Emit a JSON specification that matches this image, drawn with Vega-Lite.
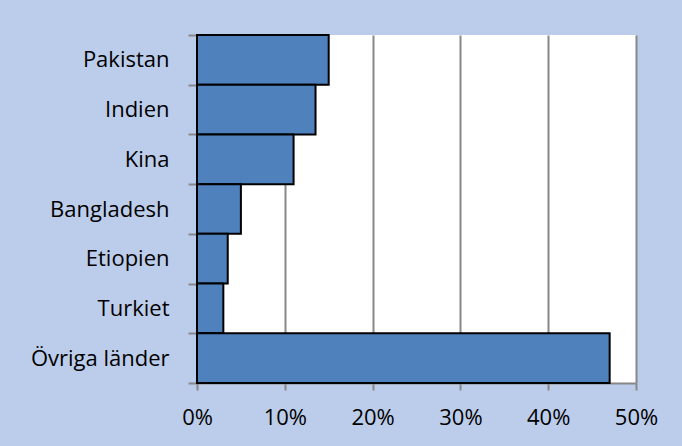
{
  "$schema": "https://vega.github.io/schema/vega-lite/v6.json",
  "autosize": {"type": "none"},
  "width": 439,
  "height": 348,
  "padding": {"left": 197, "top": 35, "right": 46, "bottom": 63},
  "background": "#BCCDEB",
  "data": {
    "values": [
      {"land": "Pakistan", "andel": 0.15},
      {"land": "Indien", "andel": 0.135},
      {"land": "Kina", "andel": 0.11},
      {"land": "Bangladesh", "andel": 0.05},
      {"land": "Etiopien", "andel": 0.035},
      {"land": "Turkiet", "andel": 0.03},
      {"land": "Övriga länder", "andel": 0.47}
    ]
  },
  "mark": {"type": "bar", "fill": "#4F81BD", "stroke": "#000000", "strokeWidth": 2},
  "encoding": {
    "y": {
      "field": "land", "type": "nominal", "sort": null,
      "scale": {"paddingInner": 0, "paddingOuter": 0},
      "axis": {
        "title": null, "tickBand": "extent", "tickSize": 9, "tickColor": "#888888", "tickWidth": 2,
        "domainColor": "#888888", "domainWidth": 2, "labelFont": "Open Sans", "labelFontSize": 22,
        "labelColor": "#000000", "labelPadding": 19
      }
    },
    "x": {
      "field": "andel", "type": "quantitative",
      "scale": {"domain": [0, 0.5], "nice": false},
      "axis": {
        "title": null, "format": ".0%", "values": [0, 0.1, 0.2, 0.3, 0.4, 0.5],
        "grid": true, "gridColor": "#888888", "gridWidth": 2, "gridOpacity": 1,
        "tickSize": 7, "tickColor": "#888888", "tickWidth": 2,
        "domainColor": "#888888", "domainWidth": 2,
        "labelFont": "Open Sans", "labelFontSize": 22, "labelColor": "#000000", "labelPadding": 17,
        "labelFlush": false
      }
    }
  },
  "config": {"view": {"fill": "#FFFFFF", "stroke": null}}
}
